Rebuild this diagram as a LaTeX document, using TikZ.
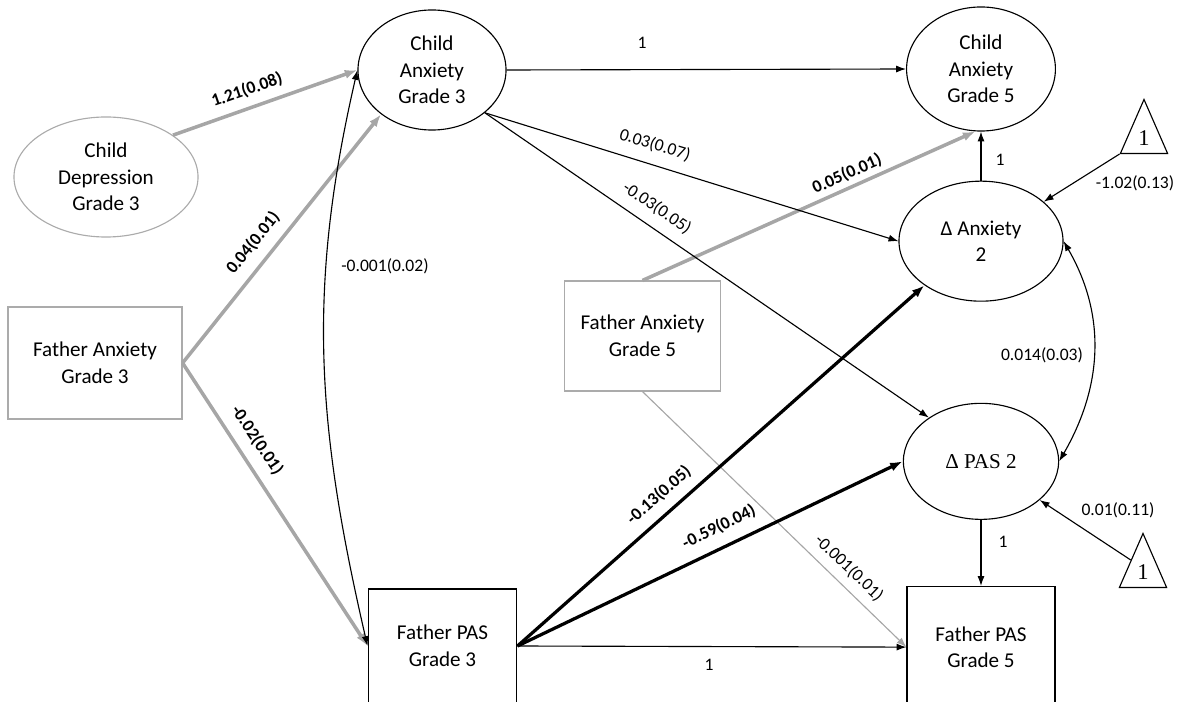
\documentclass[tikz,border=0pt]{standalone}
\usepackage{fontspec}
\setmainfont{Carlito}
\newfontfamily\deltaserif{Liberation Serif}
\usetikzlibrary{positioning,arrows.meta,shapes.geometric}
\definecolor{pathgrey}{HTML}{A6A6A6}
\definecolor{boxgrey}{HTML}{ABABAB}
\tikzset{
  latent/.style={draw, ellipse, line width=0.8pt, inner sep=0pt, align=center,
                 font=\fontsize{15}{19}\selectfont},
  observed/.style={draw, rectangle, line width=0.8pt, inner sep=0pt, align=center,
                   font=\fontsize{15}{19}\selectfont},
  faint/.style={draw=boxgrey},
  const/.style={draw, isosceles triangle, isosceles triangle stretches,
                shape border rotate=90, minimum width=1.18cm, minimum height=1.35cm,
                inner sep=0pt, line width=0.8pt, font=\deltaserif\fontsize{16}{16}\selectfont},
  reg/.style={-{Latex[length=7pt,width=5pt]}, line width=0.8pt},
  strong/.style={-{Latex[length=9pt,width=6.5pt]}, line width=2.3pt},
  greypath/.style={-{Latex[length=9pt,width=6.5pt]}, line width=2.5pt, draw=pathgrey},
  cov/.style={{Latex[length=7pt,width=5pt]}-{Latex[length=7pt,width=5pt]}, line width=0.8pt},
  est/.style={font=\fontsize{12.5}{15}\selectfont, inner sep=1pt},
  estb/.style={font=\fontsize{12.5}{15}\selectfont\bfseries, inner sep=1pt},
}
\begin{document}
\begin{tikzpicture}[x=0.025cm, y=-0.025cm]
\useasboundingbox (0,0) rectangle (1180,702);
\clip (0,0) rectangle (1180,702);

% ---- grade 3 measures ----------------------------------------------------
\node[latent, faint, minimum width=4.6cm, minimum height=3cm] (cdep) at (106,177)
  {Child\\Depression\\Grade 3};
\node[latent, minimum width=3.7cm, minimum height=3cm] (ca3) at (432,70)
  {Child\\Anxiety\\Grade 3};
\node[observed, faint, minimum width=4.35cm, minimum height=2.8cm] (fa3) at (95,363)
  {Father Anxiety\\Grade 3};
\node[observed, minimum width=3.72cm, minimum height=2.85cm] (fpas3) at (442.5,646)
  {Father PAS\\Grade 3};

% ---- grade 5 measures and change scores ------------------------------------
\node[latent, minimum width=3.72cm, minimum height=3.1cm] (ca5) at (981,69)
  {Child\\Anxiety\\Grade 5};
\node[latent, minimum width=4.1cm, minimum height=3cm, below=1.225cm of ca5] (danx)
  {Δ Anxiety\\2};
\node[latent, minimum width=3.88cm, minimum height=2.9cm, below=2.525cm of danx,
      font=\deltaserif\fontsize{15}{19}\selectfont] (dpas) {Δ PAS 2};
\node[observed, minimum width=3.7cm, minimum height=3.03cm, below=1.65cm of dpas] (fpas5)
  {Father PAS\\Grade 5};
\node[observed, faint, minimum width=3.88cm, minimum height=2.75cm] (fa5) at (642.5,336)
  {Father Anxiety\\Grade 5};

% ---- constants --------------------------------------------------------------
\node[const, anchor=apex] (ia) at (1144,98) {1};
\node[const, anchor=apex] (ip) at (1143,532) {1};

% ---- paths -----------------------------------------------------------------
\draw[greypath] (cdep.32) -- (ca3.west);
\draw[greypath] (fa3.east) -- (ca3.221);
\draw[greypath] (fa3.east) -- (fpas3.west);
\draw[greypath] (fa5.north) -- (ca5.265);
\draw[reg, draw=pathgrey] (fa5.south) -- (fpas5.west);
\draw[reg] (ca3.east) -- (ca5.west);
\draw[reg] (ca3.-39) -- (danx.west);
\draw[reg] (ca3.-39) -- (dpas.140);
\draw[strong] (fpas3.east) -- (danx.218);
\draw[strong] (fpas3.east) -- (dpas.west);
\draw[reg] (fpas3.east) -- (fpas5.west);
\draw[reg] (danx) -- (ca5);
\draw[reg] (dpas) -- (fpas5);
\draw[reg] (ia.left corner) -- (danx);
\draw[reg] (ip.left side) -- (dpas);
% covariances
\draw[cov] (ca3.west) to[out=-103, in=103] (fpas3.west);
\draw[cov] (danx.east) to[out=-60, in=60] (dpas.east);

% ---- estimates ---------------------------------------------------------------
\node[estb, rotate=19] (e-dep) at (247,90) {1.21(0.08)};
\node[estb, rotate=51] (e-faca) at (253,243) {0.04(0.01)};
\node[estb, rotate=-56] (e-fapas) at (257,440) {-0.02(0.01)};
\node[est] (e-cov3) at (385,266) {-0.001(0.02)};
\node[est] (e-ca) at (642,43) {1};
\node[est, rotate=-17] (e-cadanx) at (655,145) {0.03(0.07)};
\node[est, rotate=-34] (e-cadpas) at (657,208) {-0.03(0.05)};
\node[estb, rotate=24] (e-fa5) at (847,174) {0.05(0.01)};
\node[est] (e-danx) at (1000,160) {1};
\node[est] (e-ia) at (1135,183) {-1.02(0.13)};
\node[est] (e-cov2) at (1042,355) {0.014(0.03)};
\node[estb, rotate=41.6] (e-pasdanx) at (659,495) {-0.13(0.05)};
\node[estb, rotate=26] (e-pasdpas) at (719,527) {-0.59(0.04)};
\node[est, rotate=-43.5] (e-fa5pas) at (849,568) {-0.001(0.01)};
\node[est] (e-ip) at (1118,510) {0.01(0.11)};
\node[est] (e-dpas) at (1003,542) {1};
\node[est] (e-pas) at (709,665) {1};
\end{tikzpicture}
\end{document}
